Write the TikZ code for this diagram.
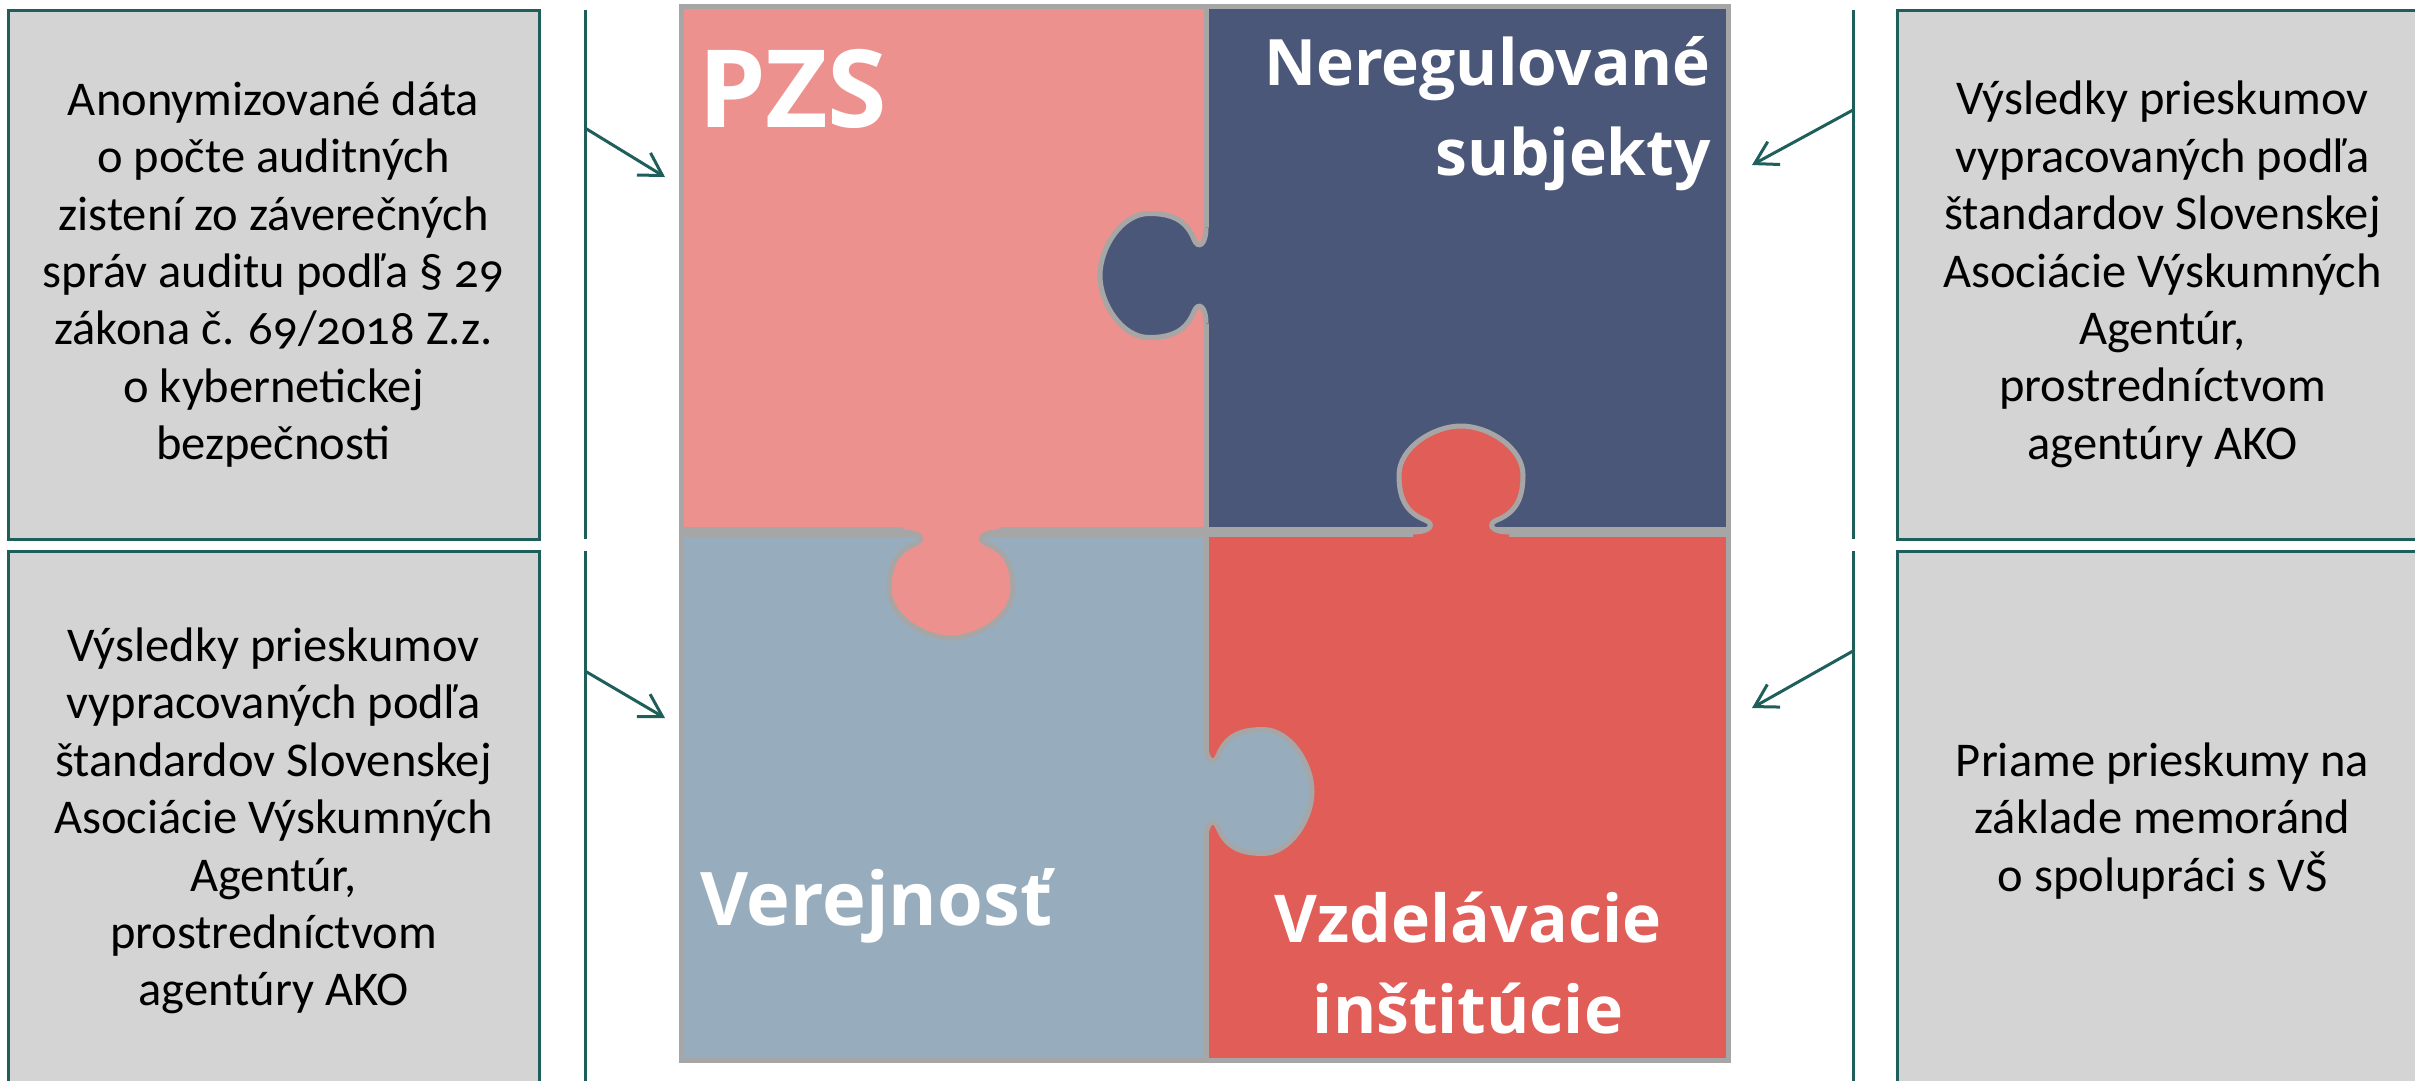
\documentclass[tikz,border=0pt]{standalone}
\usepackage{fontspec}
\usetikzlibrary{arrows.meta}
\newfontfamily\boxfont[Numbers=OldStyle]{Carlito}
\newfontfamily\labfont{Open Sans}
\definecolor{tealline}{HTML}{1F5F5B}
\definecolor{boxgray}{HTML}{D4D4D4}
\definecolor{pzpink}{HTML}{EC918E}
\definecolor{pznavy}{HTML}{4A5778}
\definecolor{pzblue}{HTML}{97ADBD}
\definecolor{pzred}{HTML}{E15D58}
\definecolor{pzedge}{HTML}{A6A6A6}
\newcommand{\pzknob}[4]{%
  \begin{scope}[shift={(#1,#2)}, rotate=#3]
    \fill[#4] (0,-48) .. controls (0,-30) and (-8,-26) .. (-12,-36)
      .. controls (-20,-56) and (-35,-62) .. (-57,-62)
      .. controls (-84,-62) and (-106,-28) .. (-106,0)
      .. controls (-106,28) and (-84,62) .. (-57,62)
      .. controls (-35,62) and (-20,56) .. (-12,36)
      .. controls (-8,26) and (0,30) .. (0,48) -- (6,48) -- (6,-48) -- cycle;
    \draw[pzline] (0,-48) .. controls (0,-30) and (-8,-26) .. (-12,-36)
      .. controls (-20,-56) and (-35,-62) .. (-57,-62)
      .. controls (-84,-62) and (-106,-28) .. (-106,0)
      .. controls (-106,28) and (-84,62) .. (-57,62)
      .. controls (-35,62) and (-20,56) .. (-12,36)
      .. controls (-8,26) and (0,30) .. (0,48);
  \end{scope}}
\begin{document}
\begin{tikzpicture}[x=1pt,y=-1pt,
  infobox/.style={draw=tealline, fill=boxgray, line width=3pt, align=center,
    inner sep=0pt, minimum width=531pt, text=black,
    font=\boxfont\fontsize{48.5}{57.4}\selectfont},
  bracket/.style={draw=tealline, line width=3pt},
  feed/.style={draw=tealline, line width=3pt, -{Straight Barb[length=22pt,width=26pt]}},
  pzline/.style={draw=pzedge, line width=5pt},
  pzlabel/.style={text=white, inner sep=0pt, font=\labfont\bfseries\fontsize{#1}{#1}\selectfont},
  pzlabel/.default=64]
\useasboundingbox (0,0) rectangle (2415,1080);
\clip (0,0) rectangle (2415,1080);
\fill[white] (0,0) rectangle (2415,1080);

% side boxes
\node[infobox, minimum height=529pt] (lbox1) at (273.5,274.5)
  {Anonymizované dáta\\o počte auditných\\zistení zo záverečných\\správ auditu podľa § 29\\zákona č. 69/2018 Z.z.\\o kybernetickej\\bezpečnosti};
\node[infobox, minimum height=540pt] (lbox2) at (273.5,821)
  {Výsledky prieskumov\\vypracovaných podľa\\štandardov Slovenskej\\Asociácie Výskumných\\Agentúr,\\prostredníctvom\\agentúry AKO};
\node[infobox, minimum height=529pt] (rbox1) at (2162.5,274.5)
  {Výsledky prieskumov\\vypracovaných podľa\\štandardov Slovenskej\\Asociácie Výskumných\\Agentúr,\\prostredníctvom\\agentúry AKO};
\node[infobox, minimum height=540pt] (rbox2) at (2162.5,821)
  {Priame prieskumy na\\základe memoránd\\o spolupráci s VŠ};

% bracket lines
\coordinate (lt1) at (585,10);  \coordinate (lb1) at (585,539);
\coordinate (lt2) at (585,551); \coordinate (lb2) at (585,1090);
\coordinate (rt1) at (1853,10);  \coordinate (rb1) at (1853,539);
\coordinate (rt2) at (1853,551); \coordinate (rb2) at (1853,1090);
\draw[bracket] (lt1) -- (lb1);
\draw[bracket] (lt2) -- (lb2);
\draw[bracket] (rt1) -- (rb1);
\draw[bracket] (rt2) -- (rb2);

% arrows
\coordinate (las1) at (585,128);  \coordinate (lae1) at (665,177);
\coordinate (las2) at (585,671);  \coordinate (lae2) at (665,718);
\coordinate (ras1) at (1853,110); \coordinate (rae1) at (1752,165);
\coordinate (ras2) at (1853,651); \coordinate (rae2) at (1752,708);
\draw[feed] (las1) -- (lae1);
\draw[feed] (las2) -- (lae2);
\draw[feed] (ras1) -- (rae1);
\draw[feed] (ras2) -- (rae2);

% puzzle
\fill[pzpink] (681,6) rectangle (1206,532);
\fill[pznavy] (1206,6) rectangle (1728,532);
\fill[pzblue] (681,532) rectangle (1206,1060);
\fill[pzred] (1206,532) rectangle (1728,1060);
\draw[pzline] (1206,6) -- (1206,1060);
\draw[pzline, line width=10pt] (681,532) -- (1728,532);
\pzknob{1206}{275.5}{0}{pznavy}
\pzknob{1206}{791.5}{180}{pzblue}
\pzknob{1461}{532}{-90}{pzred}
\pzknob{951}{532}{90}{pzpink}
\draw[pzline] (681,6) rectangle (1728,1060);

% puzzle labels
\node[pzlabel=108, anchor=base west] (pzs) at (698,127) {PZS};
\node[pzlabel=64, anchor=base east] (ner1) at (1711,85) {Neregulované};
\node[pzlabel=64, anchor=base east] (ner2) at (1711,175) {subjekty};
\node[pzlabel=74, anchor=base west] (ver) at (700,925) {Verejnosť};
\node[pzlabel=66, anchor=base] (vzd1) at (1468,942) {Vzdelávacie};
\node[pzlabel=66, anchor=base] (vzd2) at (1468,1033) {inštitúcie};
\end{tikzpicture}
\end{document}
